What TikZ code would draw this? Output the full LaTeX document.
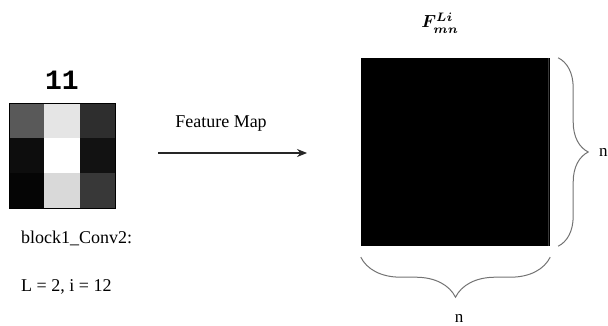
\documentclass[tikz,border=0pt]{standalone}
\usepackage{graphicx}
\usepackage{fontspec}
\setmainfont{Liberation Serif}
\newfontfamily\digitfont{Liberation Mono}
\usetikzlibrary{arrows.meta,decorations.pathreplacing}
\begin{document}
\begin{tikzpicture}[x=1pt,y=-1pt,
		lbl/.style={font=\fontsize{18}{20}\selectfont, inner sep=0pt},
		curly/.style={draw=black!55, line width=1pt, decorate, decoration={brace, amplitude=#1}}]
		\useasboundingbox (0,0) rectangle (608,326);
		% 3x3 kernel, grey values in percent white
		\foreach \c/\r/\g in {0/0/35, 1/0/90, 2/0/18, 0/1/5, 1/1/100, 2/1/7, 0/2/2, 1/2/85, 2/2/22}
			\fill[white!\g!black] ({9+35.33*\c},{103+35*\r}) rectangle ++(35.33,35);
		\node[draw, line width=0.8pt, minimum width=106pt, minimum height=105pt, inner sep=0pt] (kernel) at (62,155.5) {};
		\node[font=\digitfont\bfseries\fontsize{28}{30}\selectfont, inner sep=0pt] (ktitle) at (62,80) {11};
		\node[lbl, anchor=base west] (blockname) at (21,243) {block1\_Conv2:};
		\node[lbl, anchor=base west] (lparams) at (21,291) {L = 2, i = 12};
		% arrow
		\coordinate (arrS) at (158,153);
		\coordinate (arrE) at (307,153);
		\draw[line width=1.2pt, black!85, -{Stealth[length=10pt, width=8pt]}] (arrS) -- (arrE);
		\node[lbl, anchor=base] (flabel) at (221,128) {Feature Map};
		% feature map
		\node[fill=black, minimum width=189pt, minimum height=188pt, inner sep=0pt] (fmap) at (455.5,152) {};
		\draw[black!78, line width=1pt] ([xshift=-2pt]fmap.north east) -- ([xshift=-2pt]fmap.south east);
		\node[inner sep=0pt] (fname) at (440,23) {\scalebox{1.75}{\boldmath$F_{mn}^{Li}$}};
		\draw[curly=30pt] ([xshift=8pt]fmap.north east) -- ([xshift=8pt]fmap.south east);
		\draw[curly=40pt] ([yshift=-11pt]fmap.south east) -- ([yshift=-11pt]fmap.south west);
		\node[lbl, font=\fontsize{17}{19}\selectfont, anchor=west] (nright) at (599,152) {n};
		\node[lbl, font=\fontsize{17}{19}\selectfont] (nbottom) at (459,318) {n};
	\end{tikzpicture}
\end{document}
